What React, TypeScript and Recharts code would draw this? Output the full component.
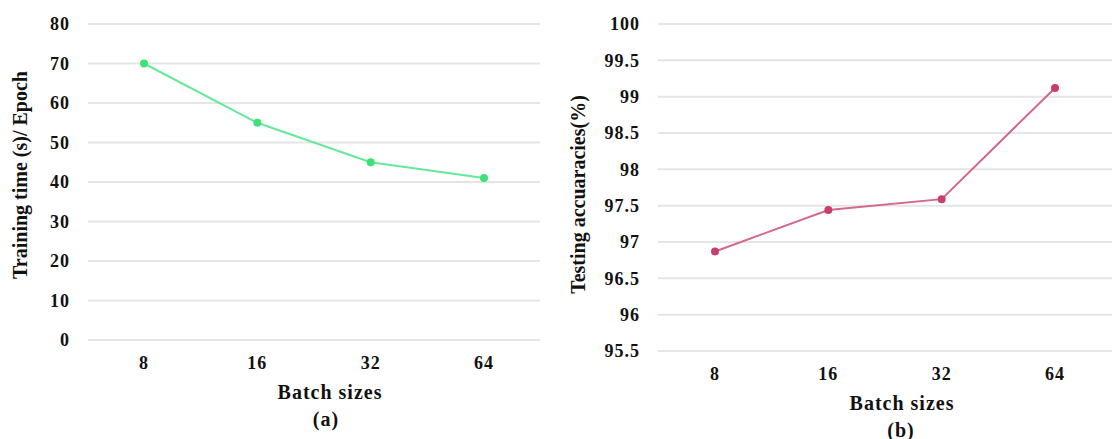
import React from 'react';
import { LineChart, Line, XAxis, YAxis, CartesianGrid } from 'recharts';

const batchSizes = ['8', '16', '32', '64'];
const trainingTime = [70, 55, 45, 41];
const testAccuracy = [96.87, 97.44, 97.59, 99.12];
const timeTicks = [0, 10, 20, 30, 40, 50, 60, 70, 80];
const accTicks = [95.5, 96, 96.5, 97, 97.5, 98, 98.5, 99, 99.5, 100];

const font = '"Liberation Serif", "Times New Roman", serif';
const tickStyle = { fontFamily: font, fontWeight: 700, fontSize: 18, fill: '#111', letterSpacing: 1 };
const labelStyle = { fontFamily: font, fontWeight: 700, fontSize: 20, fill: '#111', letterSpacing: 1 };
const yTitleStyle = { fontFamily: font, fontWeight: 700, fontSize: 20, fill: '#111' };

const timeData = batchSizes.map((b, i) => ({ batch: b, time: trainingTime[i] }));
const accData = batchSizes.map((b, i) => ({ batch: b, acc: testAccuracy[i] }));

// rotated y-axis title, placed inside the axis box
const yTitle = (text: string, dx: number, dyc: number) => (props: any) => {
  const vb = props.viewBox;
  const x = vb.x + dx;
  const y = vb.y + vb.height / 2 + dyc;
  return (
    <text
      x={x}
      y={y}
      transform={`rotate(-90, ${x}, ${y})`}
      textAnchor="middle"
      dominantBaseline="central"
      style={yTitleStyle}
    >
      {text}
    </text>
  );
};

const Caption = ({ text, left, top }: any) => (
  <div
    style={{
      position: 'absolute',
      left,
      top,
      width: 60,
      textAlign: 'center',
      fontFamily: font,
      fontWeight: 700,
      fontSize: 20,
      letterSpacing: 1,
      color: '#111',
      lineHeight: '22px',
    }}
  >
    {text}
  </div>
);

export default function App() {
  return (
    <div style={{ position: 'absolute', left: 0, top: 0, width: 1115, height: 439, background: '#fff' }}>
      <div style={{ position: 'absolute', left: 0, top: 0 }}>
        <LineChart width={560} height={439} data={timeData} margin={{ top: 24, right: 20, bottom: 59, left: 0 }}>
          <CartesianGrid vertical={false} stroke="#e5e5e5" strokeWidth={2} />
          <XAxis
            dataKey="batch"
            axisLine={false}
            tickLine={false}
            tick={tickStyle}
            tickMargin={10}
            height={40}
            padding={{ left: 56, right: 56 }}
            label={{ value: 'Batch sizes', position: 'insideBottom', offset: -19, dx: 16, style: labelStyle }}
          />
          <YAxis
            width={88}
            domain={[0, 80]}
            ticks={timeTicks}
            axisLine={false}
            tickLine={false}
            tick={tickStyle}
            tickMargin={12}
            label={{ content: yTitle('Training time (s)/ Epoch', 20, -7) }}
          />
          <Line
            dataKey="time"
            stroke="#66e89a"
            strokeWidth={2}
            dot={{ r: 3, fill: '#3ee07a', stroke: '#3ee07a' }}
            isAnimationActive={false}
          />
        </LineChart>
      </div>
      <Caption text="(a)" left={296} top={408} />
      <div style={{ position: 'absolute', left: 560, top: 0 }}>
        <LineChart width={555} height={439} data={accData} margin={{ top: 24, right: 3, bottom: 48, left: 0 }}>
          <CartesianGrid vertical={false} stroke="#e5e5e5" strokeWidth={2} />
          <XAxis
            dataKey="batch"
            axisLine={false}
            tickLine={false}
            tick={tickStyle}
            tickMargin={10}
            height={40}
            padding={{ left: 57, right: 57 }}
            label={{ value: 'Batch sizes', position: 'insideBottom', offset: -19, dx: 17, style: labelStyle }}
          />
          <YAxis
            width={98}
            domain={[95.5, 100]}
            ticks={accTicks}
            axisLine={false}
            tickLine={false}
            tick={tickStyle}
            tickMargin={12}
            label={{ content: yTitle('Testing accuaracies(%)', 18, 7) }}
          />
          <Line
            dataKey="acc"
            stroke="#d4678a"
            strokeWidth={2}
            dot={{ r: 3, fill: '#c93f6c', stroke: '#c93f6c' }}
            isAnimationActive={false}
          />
        </LineChart>
      </div>
      <Caption text="(b)" left={871} top={419} />
    </div>
  );
}
